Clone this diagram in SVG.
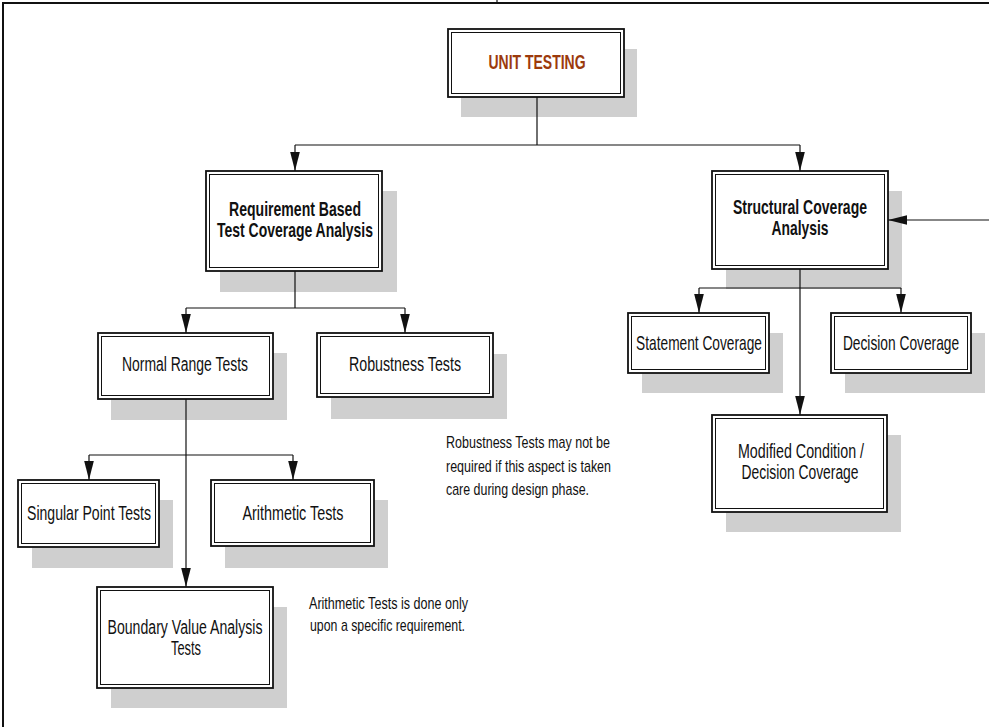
<svg xmlns="http://www.w3.org/2000/svg" width="989" height="727" viewBox="0 0 989 727">
  <style>
    .shadow { fill: #cfcfcf; }
    .outer { fill: #ffffff; stroke: #111111; stroke-width: 1.8; }
    .inner { fill: none; stroke: #111111; stroke-width: 1; }
    .lbl { font-family: "Liberation Sans Narrow", "Liberation Sans", Arial, sans-serif; font-size: 20px; fill: #111111; text-anchor: middle; }
    .bold { font-weight: bold; font-size: 20.5px; }
    .title { font-family: "Liberation Sans Narrow", "Liberation Sans", Arial, sans-serif; font-size: 20.5px; font-weight: bold; fill: #9c3a0c; text-anchor: middle; }
    .note { font-family: "Liberation Sans Narrow", "Liberation Sans", Arial, sans-serif; font-size: 17px; fill: #111111; }
    .wire { fill: none; stroke: #111111; stroke-width: 1.2; }
    .frame { fill: none; stroke: #111111; stroke-width: 2; }
  </style>
  <defs>
    <marker id="arrow" markerUnits="userSpaceOnUse" markerWidth="20" markerHeight="12" viewBox="0 0 20 12" refX="19" refY="6" orient="auto">
      <path d="M0,1.2 L19,6 L0,10.8 Z" fill="#111111"/>
    </marker>
  </defs>

  <rect width="989" height="727" fill="#ffffff"/>

  <!-- page frame -->
  <path class="frame" d="M3,727 V3 H989"/>
  <path class="wire" d="M497,0 V4"/>

  <!-- nodes -->
  <g id="unit-testing">
    <rect class="shadow" x="461" y="49" width="176" height="68"/>
    <rect class="outer" x="448" y="29" width="176" height="68"/>
    <rect class="inner" x="451.5" y="32.5" width="169" height="61"/>
    <text class="title" x="537" y="69" textLength="97" lengthAdjust="spacingAndGlyphs">UNIT TESTING</text>
  </g>

  <g id="requirement-based">
    <rect class="shadow" x="220" y="191" width="177" height="101"/>
    <rect class="outer" x="206" y="171" width="176" height="100"/>
    <rect class="inner" x="209.5" y="174.5" width="169" height="93"/>
    <text class="lbl bold" x="295" y="216" textLength="132" lengthAdjust="spacingAndGlyphs">Requirement Based</text>
    <text class="lbl bold" x="295" y="237" textLength="156" lengthAdjust="spacingAndGlyphs">Test Coverage Analysis</text>
  </g>

  <g id="structural-coverage">
    <rect class="shadow" x="726" y="191" width="176" height="98"/>
    <rect class="outer" x="712" y="171" width="176" height="98"/>
    <rect class="inner" x="715.5" y="174.5" width="169" height="91"/>
    <text class="lbl bold" x="800" y="214" textLength="134" lengthAdjust="spacingAndGlyphs">Structural Coverage</text>
    <text class="lbl bold" x="800" y="235" textLength="57" lengthAdjust="spacingAndGlyphs">Analysis</text>
  </g>

  <g id="normal-range">
    <rect class="shadow" x="111" y="353" width="176" height="67"/>
    <rect class="outer" x="98" y="333" width="175" height="66"/>
    <rect class="inner" x="101.5" y="336.5" width="168" height="59"/>
    <text class="lbl" x="185" y="371" textLength="126" lengthAdjust="spacingAndGlyphs">Normal Range Tests</text>
  </g>

  <g id="robustness">
    <rect class="shadow" x="331" y="354" width="176" height="65"/>
    <rect class="outer" x="317" y="333" width="176" height="64"/>
    <rect class="inner" x="320.5" y="336.5" width="169" height="57"/>
    <text class="lbl" x="405" y="371" textLength="112" lengthAdjust="spacingAndGlyphs">Robustness Tests</text>
  </g>

  <g id="singular-point">
    <rect class="shadow" x="32" y="500" width="141" height="68"/>
    <rect class="outer" x="18" y="480" width="141" height="67"/>
    <rect class="inner" x="21.5" y="483.5" width="134" height="60"/>
    <text class="lbl" transform="translate(89,520) scale(0.78,1)" x="0" y="0" textLength="159" lengthAdjust="spacingAndGlyphs">Singular Point Tests</text>
  </g>

  <g id="arithmetic">
    <rect class="shadow" x="225" y="500" width="163" height="68"/>
    <rect class="outer" x="211" y="480" width="163" height="66"/>
    <rect class="inner" x="214.5" y="483.5" width="156" height="59"/>
    <text class="lbl" x="293" y="520" textLength="101" lengthAdjust="spacingAndGlyphs">Arithmetic Tests</text>
  </g>

  <g id="boundary-value">
    <rect class="shadow" x="111" y="607" width="176" height="101"/>
    <rect class="outer" x="97" y="587" width="176" height="101"/>
    <rect class="inner" x="100.5" y="590.5" width="169" height="94"/>
    <text class="lbl" x="185" y="634" textLength="155" lengthAdjust="spacingAndGlyphs">Boundary Value Analysis</text>
    <text class="lbl" x="186" y="655" textLength="30" lengthAdjust="spacingAndGlyphs">Tests</text>
  </g>

  <g id="statement-coverage">
    <rect class="shadow" x="642" y="333" width="141" height="60"/>
    <rect class="outer" x="628" y="313" width="141" height="60"/>
    <rect class="inner" x="631.5" y="316.5" width="134" height="53"/>
    <text class="lbl" transform="translate(699,350) scale(0.74,1)" x="0" y="0" textLength="170" lengthAdjust="spacingAndGlyphs">Statement Coverage</text>
  </g>

  <g id="decision-coverage">
    <rect class="shadow" x="845" y="333" width="140" height="60"/>
    <rect class="outer" x="831" y="313" width="140" height="60"/>
    <rect class="inner" x="834.5" y="316.5" width="133" height="53"/>
    <text class="lbl" transform="translate(901,350) scale(0.74,1)" x="0" y="0" textLength="157" lengthAdjust="spacingAndGlyphs">Decision Coverage</text>
  </g>

  <g id="mcdc">
    <rect class="shadow" x="726" y="435" width="175" height="97"/>
    <rect class="outer" x="712" y="415" width="175" height="97"/>
    <rect class="inner" x="715.5" y="418.5" width="168" height="90"/>
    <text class="lbl" x="801" y="458" textLength="126" lengthAdjust="spacingAndGlyphs">Modified Condition /</text>
    <text class="lbl" x="800" y="479" textLength="117" lengthAdjust="spacingAndGlyphs">Decision Coverage</text>
  </g>

  <!-- connectors, drawn over the drop shadows -->
  <g id="connectors">
    <path class="wire" d="M537,97 V145 M295,145 H800"/>
    <path class="wire" d="M295,145 V171" marker-end="url(#arrow)"/>
    <path class="wire" d="M800,145 V171" marker-end="url(#arrow)"/>

    <path class="wire" d="M295,271 V308 M186,308 H405"/>
    <path class="wire" d="M186,308 V333" marker-end="url(#arrow)"/>
    <path class="wire" d="M405,308 V333" marker-end="url(#arrow)"/>

    <path class="wire" d="M186,399 V587" marker-end="url(#arrow)"/>
    <path class="wire" d="M89,455 H293"/>
    <path class="wire" d="M89,455 V480" marker-end="url(#arrow)"/>
    <path class="wire" d="M293,455 V480" marker-end="url(#arrow)"/>

    <path class="wire" d="M800,269 V415" marker-end="url(#arrow)"/>
    <path class="wire" d="M699,288 H901"/>
    <path class="wire" d="M699,288 V313" marker-end="url(#arrow)"/>
    <path class="wire" d="M901,288 V313" marker-end="url(#arrow)"/>

    <path class="wire" d="M989,220 H888" marker-end="url(#arrow)"/>
  </g>

  <!-- annotations -->
  <g id="note-robustness">
    <text class="note" x="446" y="448" textLength="164" lengthAdjust="spacingAndGlyphs">Robustness Tests may not be</text>
    <text class="note" x="446" y="472" textLength="165" lengthAdjust="spacingAndGlyphs">required if this aspect is taken</text>
    <text class="note" x="446" y="495" textLength="143" lengthAdjust="spacingAndGlyphs">care during design phase.</text>
  </g>
  <g id="note-arithmetic">
    <text class="note" x="309" y="609" textLength="159" lengthAdjust="spacingAndGlyphs">Arithmetic Tests is done only</text>
    <text class="note" x="310" y="631" textLength="155" lengthAdjust="spacingAndGlyphs">upon a specific requirement.</text>
  </g>
</svg>
